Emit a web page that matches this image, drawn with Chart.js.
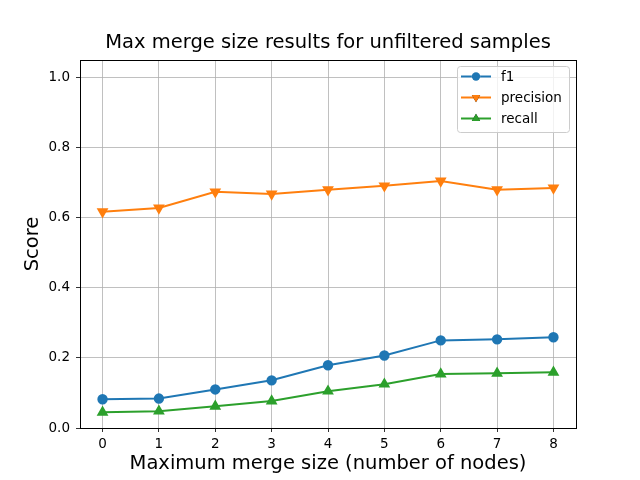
<!DOCTYPE html>
<html>
<head>
<meta charset="utf-8">
<script src="https://cdn.jsdelivr.net/npm/chart.js@4/dist/chart.umd.min.js"></script>
<style>
  html, body { margin: 0; padding: 0; background: #fff; }
  #wrap { width: 640px; height: 480px; }
</style>
</head>
<body>
<div id="wrap"><canvas id="mergeChart" width="640" height="480"></canvas></div>
<script>
// values
const mergeSizes = [0, 1, 2, 3, 4, 5, 6, 7, 8];
const f1Scores = [0.082, 0.084, 0.110, 0.136, 0.179, 0.207, 0.250, 0.253, 0.259];
const precisionScores = [0.617, 0.628, 0.674, 0.668, 0.680, 0.691, 0.705, 0.680, 0.685];
const recallScores = [0.045, 0.048, 0.062, 0.077, 0.105, 0.125, 0.154, 0.156, 0.159];
const xTicks = [0, 1, 2, 3, 4, 5, 6, 7, 8];
const yTicks = [0, 0.2, 0.4, 0.6, 0.8, 1.0];
const chartTitle = "Max merge size results for unfiltered samples";

const font = "'DejaVu Sans', sans-serif";

function pts(vals) {
  return mergeSizes.map((x, i) => ({ x: x, y: vals[i] }));
}

// axes box, title over the plot area, matplotlib-like legend
const boxPlugin = {
  id: "box",
  afterDraw(chart) {
    const ctx = chart.ctx;
    const a = chart.chartArea;
    ctx.save();
    ctx.strokeStyle = "#000";
    ctx.lineWidth = 1;
    ctx.strokeRect(Math.round(a.left) + 0.5, Math.round(a.top) + 0.5,
      Math.round(a.right - a.left), Math.round(a.bottom - a.top));

    ctx.fillStyle = "#000";
    ctx.font = "19.5px " + font;
    ctx.textAlign = "center";
    ctx.textBaseline = "middle";
    ctx.fillText(chartTitle, (a.left + a.right) / 2, 43);

    // legend
    const lx = 457, ly = 66, lw = 112, lh = 66;
    ctx.fillStyle = "rgba(255,255,255,0.8)";
    ctx.strokeStyle = "#cccccc";
    ctx.beginPath();
    ctx.roundRect(lx + 0.5, ly + 0.5, lw, lh, 3);
    ctx.fill();
    ctx.stroke();
    ctx.font = "13.5px " + font;
    ctx.textAlign = "left";
    chart.data.datasets.forEach((ds, i) => {
      const y = 76.5 + i * 21;
      ctx.strokeStyle = ds.borderColor;
      ctx.lineWidth = 2;
      ctx.beginPath();
      ctx.moveTo(461, y);
      ctx.lineTo(491, y);
      ctx.stroke();
      Chart.helpers.drawPoint(ctx, {
        pointStyle: ds.pointStyle,
        radius: ds.pointRadius,
        rotation: ds.pointRotation || 0,
        borderWidth: 0
      }, 476, y);
      ctx.fillStyle = ds.borderColor;
      ctx.fill();
      ctx.fillStyle = "#000";
      ctx.fillText(ds.label, 501, y + 1);
    });
    ctx.restore();
  }
};

new Chart(document.getElementById("mergeChart"), {
  type: "line",
  data: {
    datasets: [
      {
        label: "f1",
        data: pts(f1Scores),
        borderColor: "#1f77b4",
        backgroundColor: "#1f77b4",
        pointStyle: "circle",
        pointRadius: 4.2,
        borderWidth: 2
      },
      {
        label: "precision",
        data: pts(precisionScores),
        borderColor: "#ff7f0e",
        backgroundColor: "#ff7f0e",
        pointStyle: "triangle",
        pointRotation: 180,
        pointRadius: 4.8,
        borderWidth: 2
      },
      {
        label: "recall",
        data: pts(recallScores),
        borderColor: "#2ca02c",
        backgroundColor: "#2ca02c",
        pointStyle: "triangle",
        pointRadius: 4.8,
        borderWidth: 2
      }
    ]
  },
  options: {
    responsive: false,
    animation: false,
    layout: { padding: { left: 0, right: 64, top: 60, bottom: 0 } },
    elements: { line: { tension: 0 }, point: { borderWidth: 0, hoverRadius: 4 } },
    plugins: {
      legend: { display: false },
      tooltip: { enabled: false },
      title: { display: false }
    },
    scales: {
      x: {
        type: "linear",
        min: -0.4,
        max: 8.4,
        afterBuildTicks: (s) => { s.ticks = xTicks.map(v => ({ value: v })); },
        afterFit: (s) => { s.height = 52; },
        ticks: { color: "#000", font: { family: font, size: 13.5 }, padding: 4, maxRotation: 0 },
        grid: { color: "#b0b0b0", lineWidth: 0.8, tickColor: "#000", tickLength: 4 },
        border: { color: "#000" },
        title: {
          display: true,
          text: "Maximum merge size (number of nodes)",
          color: "#000",
          font: { family: font, size: 19.5 },
          padding: { top: 0, bottom: 4 }
        }
      },
      y: {
        min: 0,
        max: 1.05,
        afterBuildTicks: (s) => { s.ticks = yTicks.map(v => ({ value: v })); },
        afterFit: (s) => { s.width = 80; },
        ticks: {
          color: "#000",
          font: { family: font, size: 13.5 },
          padding: 6,
          callback: (v) => v.toFixed(1)
        },
        grid: { color: "#b0b0b0", lineWidth: 0.8, tickColor: "#000", tickLength: 4 },
        border: { color: "#000" },
        title: {
          display: true,
          text: "Score",
          color: "#000",
          font: { family: font, size: 19.5 },
          padding: { top: 21, bottom: 0 }
        }
      }
    }
  },
  plugins: [boxPlugin]
});
</script>
</body>
</html>
